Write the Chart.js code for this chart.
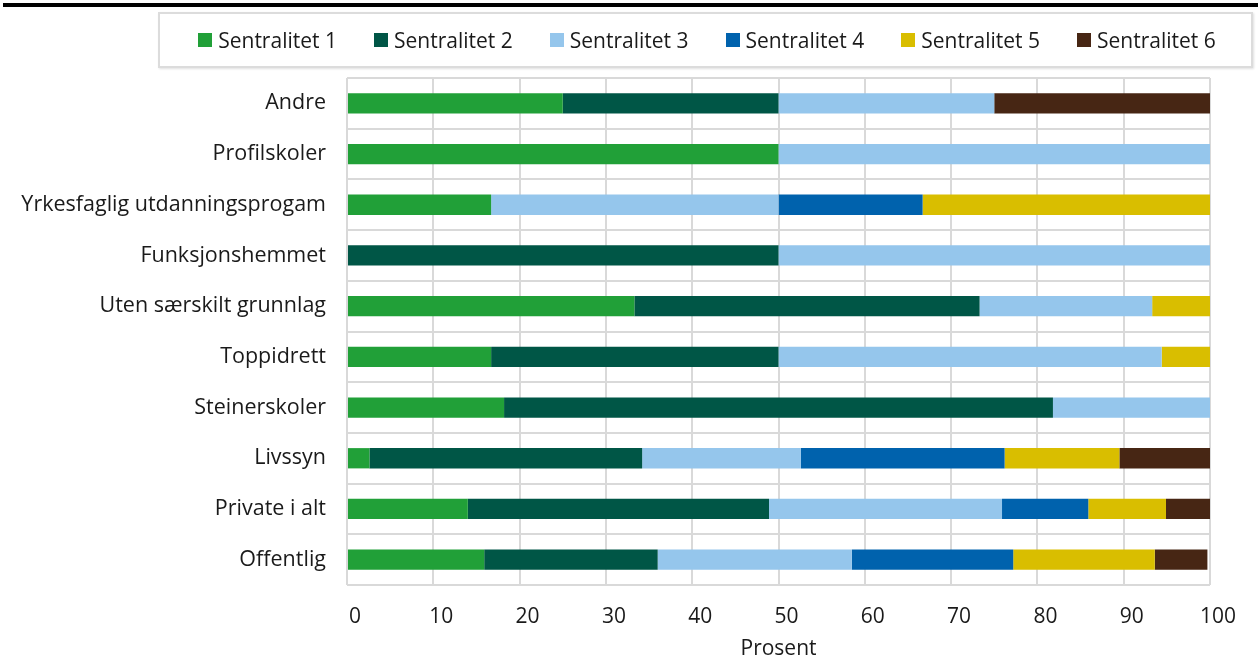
<!DOCTYPE html>
<html>
<head>
<meta charset="utf-8">
<script src="https://cdn.jsdelivr.net/npm/chart.js@4"></script>
<style>
    html, body { margin: 0; padding: 0; background: #fff; }
    body { width: 1258px; height: 669px; position: relative; overflow: hidden; font-family: 'Open Sans', sans-serif; }
    .topline { position: absolute; left: 3px; right: 0; top: 3px; height: 4px; background: #000; }
    .legend {
        position: absolute; left: 158px; top: 12px; width: 1088px; height: 52px;
        border: 2px solid #dcdcdc; box-shadow: 1px 1px 2px rgba(0,0,0,0.12);
        display: flex; align-items: center; justify-content: center; gap: 37px;
        font-size: 21px; color: #1a1a1a; padding-left: 3px; box-sizing: content-box;
    }
    .legend span.item { display: flex; align-items: center; gap: 6px; }
    .legend span.box { width: 14px; height: 14px; display: inline-block; }
    #wrap { position: absolute; left: 0; top: 0; width: 1258px; height: 669px; }
</style>
</head>
<body>
<div class="topline"></div>
<div id="wrap"><canvas id="chart"></canvas></div>
<div class="legend" id="legend"></div>
<script>
// Kategorier (ovenfra og ned)
const categories = ['Andre', 'Profilskoler', 'Yrkesfaglig utdanningsprogam', 'Funksjonshemmet',
    'Uten særskilt grunnlag', 'Toppidrett', 'Steinerskoler', 'Livssyn', 'Private i alt', 'Offentlig'];

const sentralitet1 = [25.0, 50.0, 16.7, 0, 33.3, 16.7, 18.2, 2.6, 14.0, 15.9];
const sentralitet2 = [25.0, 0, 0, 50.0, 40.0, 33.3, 63.6, 31.6, 34.9, 20.1];
const sentralitet3 = [25.0, 50.0, 33.3, 50.0, 20.0, 44.4, 18.2, 18.4, 27.0, 22.5];
const sentralitet4 = [0, 0, 16.7, 0, 0, 0, 0, 23.6, 10.0, 18.7];
const sentralitet5 = [0, 0, 33.3, 0, 6.7, 5.6, 0, 13.3, 9.0, 16.4];
const sentralitet6 = [25.0, 0, 0, 0, 0, 0, 0, 10.5, 5.1, 6.1];

const xTicks = [0, 10, 20, 30, 40, 50, 60, 70, 80, 90, 100];

const seriesNames = ['Sentralitet 1', 'Sentralitet 2', 'Sentralitet 3', 'Sentralitet 4', 'Sentralitet 5', 'Sentralitet 6'];
const seriesColors = ['#21a038', '#005646', '#95c6ec', '#0062ad', '#d9be00', '#472614'];
const seriesData = [sentralitet1, sentralitet2, sentralitet3, sentralitet4, sentralitet5, sentralitet6];

const gridColor = '#d9d9d9';
const textColor = '#1a1a1a';

const chart = new Chart(document.getElementById('chart'), {
    type: 'bar',
    data: {
        labels: categories,
        datasets: seriesData.map((d, i) => ({
            label: seriesNames[i],
            data: d,
            backgroundColor: seriesColors[i],
            borderWidth: 0,
            categoryPercentage: 1,
            barPercentage: 0.4
        }))
    },
    options: {
        indexAxis: 'y',
        responsive: true,
        maintainAspectRatio: false,
        animation: false,
        layout: { padding: { top: 78, right: 48, bottom: 0, left: 0 } },
        plugins: {
            legend: { display: false },
            tooltip: { enabled: false }
        },
        scales: {
            x: {
                stacked: true,
                min: 0,
                max: 100,
                afterBuildTicks: s => { s.ticks = xTicks.map(v => ({ value: v })); },
                afterFit: s => { s.height = 84; },
                grid: { color: gridColor, lineWidth: 2, drawTicks: false },
                border: { display: false },
                ticks: { color: textColor, font: { family: 'Open Sans', size: 21 }, padding: 19, labelOffset: 8, maxRotation: 0 },
                title: { display: true, text: 'Prosent', color: textColor, font: { family: 'Open Sans', size: 21 }, padding: { top: 4, bottom: 7 } }
            },
            y: {
                stacked: true,
                afterFit: s => { s.width = 347; },
                grid: { color: gridColor, lineWidth: 2, drawTicks: false, offset: true },
                border: { display: false },
                ticks: { color: textColor, font: { family: 'Open Sans', size: 21.5 }, padding: 21 }
            }
        }
    }
});

// HTML-legende
const legendEl = document.getElementById('legend');
seriesNames.forEach((name, i) => {
    const item = document.createElement('span');
    item.className = 'item';
    item.innerHTML = `<span class="box" style="background:${seriesColors[i]}"></span>${name}`;
    legendEl.appendChild(item);
});
</script>
</body>
</html>
